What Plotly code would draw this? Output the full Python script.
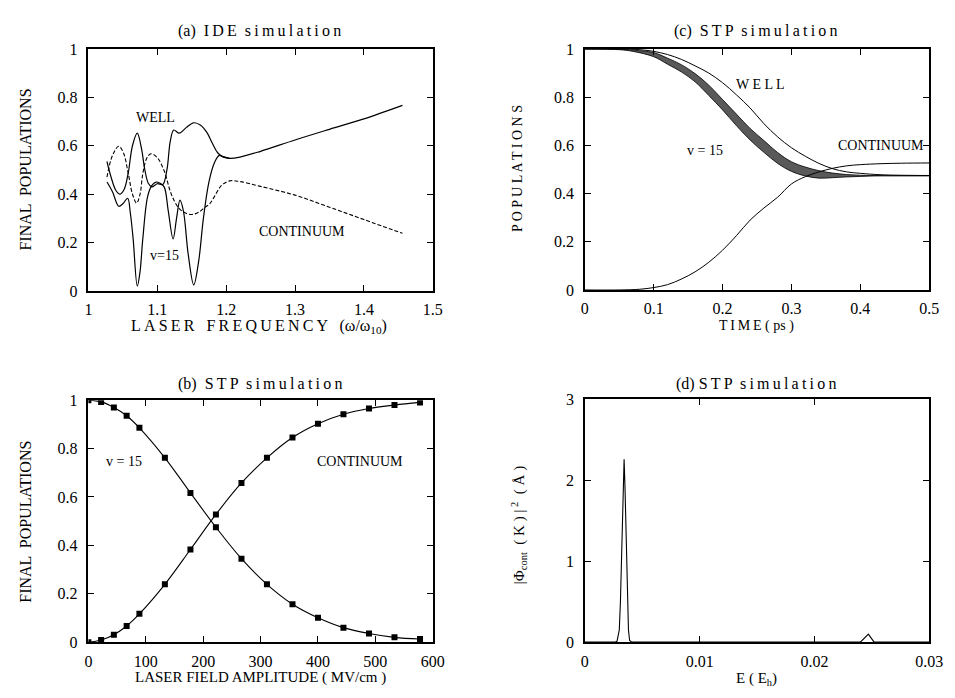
import plotly.graph_objects as go

W, H = 955, 698
FONT = "Liberation Serif, Times New Roman, serif"

# ---------------- (a) IDE simulation: final populations vs laser frequency
a_well_x = [1.027, 1.033, 1.040, 1.046, 1.052, 1.058, 1.064, 1.071, 1.077, 1.082, 1.087,
            1.092, 1.100, 1.108, 1.114, 1.119, 1.124, 1.132, 1.142, 1.153, 1.163, 1.172,
            1.180, 1.188, 1.196, 1.205, 1.220, 1.250, 1.300, 1.350, 1.400, 1.456]
a_well_y = [0.535, 0.47, 0.415, 0.40, 0.42, 0.49, 0.60, 0.652, 0.59, 0.50, 0.445,
            0.43, 0.443, 0.44, 0.50, 0.62, 0.665, 0.652, 0.675, 0.695, 0.685, 0.655,
            0.61, 0.57, 0.553, 0.548, 0.553, 0.577, 0.624, 0.668, 0.711, 0.767]

a_v15_x = [1.027, 1.035, 1.044, 1.050, 1.057, 1.061, 1.065, 1.071, 1.075, 1.079, 1.086,
           1.092, 1.098, 1.104, 1.110, 1.116, 1.123, 1.128, 1.133, 1.138, 1.145, 1.153,
           1.160, 1.167, 1.175, 1.183, 1.190, 1.196, 1.205]
a_v15_y = [0.45, 0.41, 0.35, 0.36, 0.383, 0.32, 0.215, 0.02, 0.08, 0.215, 0.39,
           0.435, 0.45, 0.445, 0.43, 0.33, 0.215, 0.30, 0.375, 0.33, 0.15, 0.025,
           0.12, 0.30, 0.45, 0.53, 0.56, 0.555, 0.548]

a_cont_x = [1.027, 1.035, 1.044, 1.051, 1.058, 1.064, 1.070, 1.075, 1.079, 1.085, 1.091,
            1.100, 1.110, 1.120, 1.131, 1.141, 1.150, 1.160, 1.168, 1.176, 1.183, 1.193,
            1.205, 1.220, 1.250, 1.300, 1.350, 1.400, 1.456]
a_cont_y = [0.47, 0.56, 0.598, 0.57, 0.484, 0.40, 0.363, 0.40, 0.484, 0.55, 0.567,
            0.551, 0.497, 0.403, 0.343, 0.322, 0.316, 0.325, 0.343, 0.36, 0.39, 0.435,
            0.455, 0.452, 0.432, 0.396, 0.346, 0.295, 0.238]

# ---------------- (b) STP simulation: final populations vs field amplitude
b_field = [0, 22.2, 44.4, 66.7, 88.9, 133.3, 177.8, 222.2, 266.7, 311.1, 355.6,
           400.0, 444.4, 488.9, 533.3, 577.8]
b_v15 = [1.0, 0.993, 0.970, 0.936, 0.886, 0.762, 0.617, 0.475, 0.345, 0.239, 0.157,
         0.101, 0.060, 0.036, 0.020, 0.013]
b_cont = [0.0, 0.009, 0.031, 0.067, 0.117, 0.239, 0.383, 0.528, 0.658, 0.762, 0.846,
          0.903, 0.942, 0.966, 0.980, 0.991]

# ---------------- (c) STP simulation: populations vs time
c_t = [0, 0.05, 0.08, 0.10, 0.12, 0.14, 0.16, 0.18, 0.20, 0.22, 0.24, 0.26, 0.28,
       0.30, 0.32, 0.34, 0.36, 0.38, 0.40, 0.43, 0.46, 0.50]
c_well = [1.0, 1.0, 0.997, 0.99, 0.977, 0.957, 0.93, 0.90, 0.86, 0.81, 0.755, 0.69,
          0.635, 0.59, 0.555, 0.525, 0.503, 0.49, 0.484, 0.478, 0.476, 0.475]
c_cont = [0.0, 0.0, 0.003, 0.01, 0.022, 0.045, 0.075, 0.115, 0.165, 0.225, 0.29, 0.34,
          0.385, 0.44, 0.47, 0.49, 0.505, 0.515, 0.52, 0.524, 0.526, 0.527]

# v = 15 oscillates rapidly; its band is drawn between upper and lower envelopes
c_band_t = [0, 0.05, 0.07, 0.10, 0.12, 0.14, 0.16, 0.18, 0.20, 0.22, 0.24, 0.26,
            0.28, 0.30, 0.32, 0.34, 0.36, 0.38, 0.40, 0.42, 0.45, 0.50]
c_v15_hi = [1.0, 0.999, 0.995, 0.985, 0.962, 0.935, 0.898, 0.85, 0.79, 0.73, 0.67,
            0.62, 0.57, 0.532, 0.51, 0.495, 0.485, 0.479, 0.476, 0.475, 0.474, 0.474]
c_v15_lo = [1.0, 0.997, 0.99, 0.968, 0.937, 0.905, 0.864, 0.807, 0.747, 0.682, 0.622,
            0.571, 0.525, 0.492, 0.473, 0.464, 0.466, 0.469, 0.471, 0.473, 0.474, 0.474]

# ---------------- (d) STP simulation: continuum energy distribution
d_e = [0.0, 0.0026, 0.0028, 0.0030, 0.0031, 0.0032, 0.0033, 0.00342, 0.0035, 0.0036,
       0.0037, 0.0038, 0.0039, 0.0041, 0.0240, 0.0247, 0.0252, 0.0300]
d_phi = [0.0, 0.0, 0.01, 0.15, 0.5, 1.1, 1.8, 2.26, 1.9, 1.2,
         0.55, 0.15, 0.02, 0.0, 0.0, 0.10, 0.0, 0.0]

LINE = dict(color="black", width=1.2)

fig = go.Figure()

# (a)
fig.add_trace(go.Scatter(x=a_well_x, y=a_well_y, mode="lines", line=dict(LINE, shape="spline"),
                         xaxis="x", yaxis="y", showlegend=False))
fig.add_trace(go.Scatter(x=a_v15_x, y=a_v15_y, mode="lines", line=dict(LINE, shape="spline"),
                         xaxis="x", yaxis="y", showlegend=False))
fig.add_trace(go.Scatter(x=a_cont_x, y=a_cont_y, mode="lines",
                         line=dict(color="black", width=1.1, dash="4px,2px", shape="spline"),
                         xaxis="x", yaxis="y", showlegend=False))

# (b)
for ys in (b_v15, b_cont):
    fig.add_trace(go.Scatter(x=b_field, y=ys, mode="lines+markers",
                             line=dict(color="black", width=1.1, shape="spline"),
                             marker=dict(symbol="square", size=6, color="black"),
                             xaxis="x2", yaxis="y2", showlegend=False))

# (c)
fig.add_trace(go.Scatter(x=c_band_t, y=c_v15_lo, mode="lines", line=dict(color="black", width=0.8, shape="spline"),
                         xaxis="x3", yaxis="y3", showlegend=False))
fig.add_trace(go.Scatter(x=c_band_t, y=c_v15_hi, mode="lines", line=dict(color="black", width=0.8, shape="spline"),
                         fill="tonexty", fillcolor="rgba(25,25,25,0.72)",
                         xaxis="x3", yaxis="y3", showlegend=False))
fig.add_trace(go.Scatter(x=c_t, y=c_well, mode="lines", line=dict(color="black", width=1.0, shape="spline"),
                         xaxis="x3", yaxis="y3", showlegend=False))
fig.add_trace(go.Scatter(x=c_t, y=c_cont, mode="lines", line=dict(color="black", width=1.0, shape="spline"),
                         xaxis="x3", yaxis="y3", showlegend=False))

# (d)
fig.add_trace(go.Scatter(x=d_e, y=d_phi, mode="lines", line=dict(color="black", width=1.1),
                         xaxis="x4", yaxis="y4", showlegend=False))


def px(x):
    return x / W


def py(y):
    return 1 - y / H


def axis(domain, rng, dtick, anchor, standoff):
    return dict(domain=domain, range=rng, dtick=dtick, anchor=anchor,
                showline=True, mirror="ticks", linecolor="black", linewidth=1.5,
                ticks="inside", ticklen=6, tickwidth=1.3, tickcolor="black",
                showgrid=False, zeroline=False, ticklabelstandoff=standoff,
                tickfont=dict(family=FONT, size=16, color="black"))


XL, XR = [px(86), px(437)], [px(592), px(943)]
YT_L, YT_R = [py(290), py(42)], [py(289), py(42)]
YB_L, YB_R = [py(650), py(402)], [py(650), py(401)]

fig.update_layout(
    width=W, height=H, margin=dict(l=0, r=0, t=0, b=0),
    paper_bgcolor="white", plot_bgcolor="white",
    xaxis=axis(XL, [1, 1.5], 0.1, "y", 3),
    yaxis=axis(YT_L, [0, 1], 0.2, "x", 6),
    xaxis2=axis(XL, [0, 600], 100, "y2", 4),
    yaxis2=axis(YB_L, [0, 1], 0.2, "x2", 6),
    xaxis3=axis(XR, [0, 0.5], 0.1, "y3", 3),
    yaxis3=axis(YT_R, [0, 1], 0.2, "x3", 6),
    xaxis4=axis(XR, [0, 0.03], 0.01, "y4", 4),
    yaxis4=axis(YB_R, [0, 3], 1, "x4", 6),
)


def spaced(s, sep="\u2009"):
    return sep.join(s)


def note(text, x, y, size=16, angle=0, xref="paper", yref="paper"):
    if xref == "paper":
        x, y = px(x), py(y)
    fig.add_annotation(text=text, x=x, y=y, xref=xref, yref=yref, showarrow=False,
                       textangle=angle, xanchor="center", yanchor="middle",
                       font=dict(family=FONT, size=size, color="black"))


# panel titles
note("(a)  " + spaced("IDE") + "  " + spaced("simulation"), 260, 24, 16)
note("(b)  " + spaced("STP") + "  " + spaced("simulation"), 261, 385, 16)
note("(c)  " + spaced("STP") + "  " + spaced("simulation"), 766, 24, 16)
note("(d) " + spaced("STP") + "  " + spaced("simulation"), 766, 385, 16)

# axis titles
note(spaced("LASER") + "   " + spaced("FREQUENCY") + "   (ω/ω<sub>10</sub>)", 260, 326, 16)
note("LASER FIELD AMPLITUDE ( MV/cm )", 261, 686, 15)
note(spaced("TIME") + " ( ps )", 767, 326, 14)
note("E ( E<sub>h</sub>)", 767, 688, 15)
note("FINAL  POPULATIONS", 22, 166, 16, -90)
note("FINAL  POPULATIONS", 22, 527, 16, -90)
note(" ".join("POPULATIONS"), 524, 165, 14, -90)
note("|Φ<sub>cont</sub>  ( K ) |<sup> 2</sup>  ( Å )", 525, 530, 15, -90)

# curve labels
note("WELL", 1.097, 0.718, 14, xref="x", yref="y")
note("CONTINUUM", 1.31, 0.246, 14, xref="x", yref="y")
note("v=15", 1.111, 0.145, 14, xref="x", yref="y")
note("v = 15", 61.5, 0.746, 14, xref="x2", yref="y2")
note("CONTINUUM", 472.6, 0.748, 14, xref="x2", yref="y2")
note("W E L L", 0.255, 0.854, 14, xref="x3", yref="y3")
note("CONTINUUM", 0.4295, 0.599, 14, xref="x3", yref="y3")
note("v = 15", 0.1745, 0.577, 14, xref="x3", yref="y3")

fig.write_html("out.html")
